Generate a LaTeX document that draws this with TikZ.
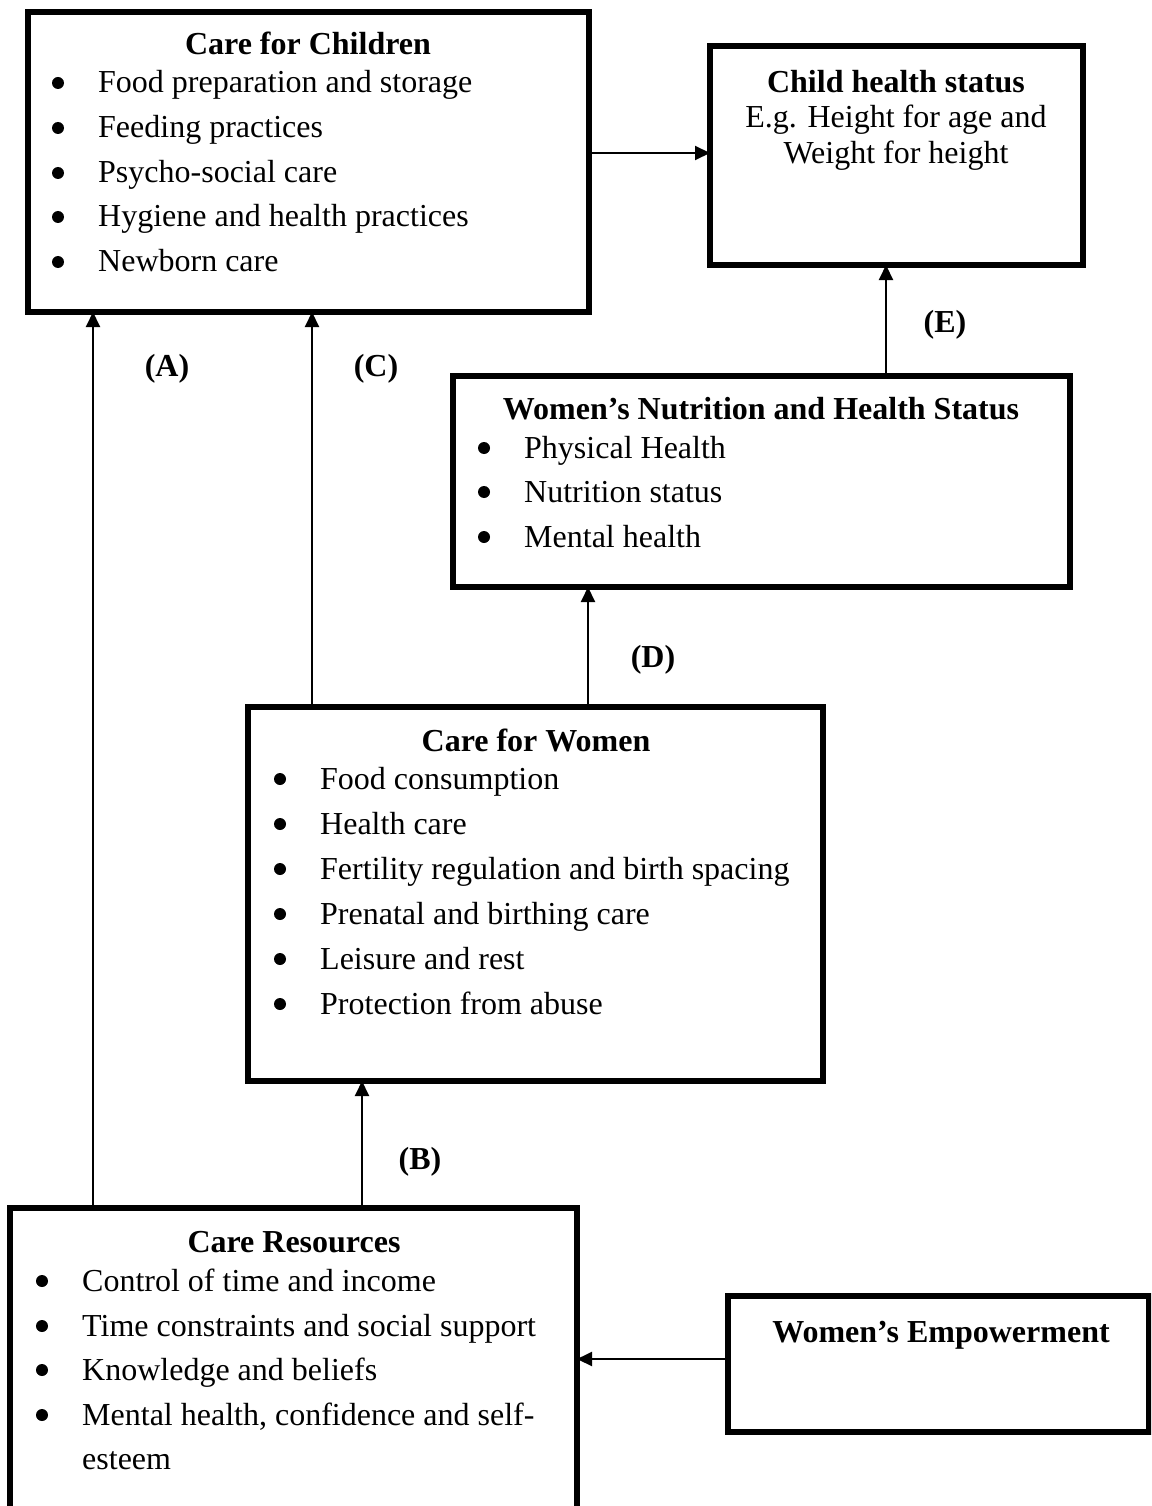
\documentclass[tikz,border=0pt]{standalone}
\usepackage{fontspec}
\setmainfont{Liberation Serif}
\usetikzlibrary{arrows.meta}
\begin{document}
\begin{tikzpicture}[x=1pt,y=-1pt,
  box/.style={draw,line width=5.5pt,minimum width=#1,anchor=north west,inner sep=0pt,outer sep=0pt},
  arr/.style={line width=2pt,-{Triangle[length=15pt,width=14pt]}},
  txt/.style={anchor=base west,inner sep=0pt,font=\fontsize{32}{45}\selectfont},
  ttl/.style={anchor=base,inner sep=0pt,font=\fontsize{32}{45}\selectfont\bfseries},
  bul/.style={anchor=base,inner sep=0pt,font=\fontsize{32}{45}\selectfont},
  dot/.style={circle,fill,inner sep=0pt,minimum size=12pt}]
\useasboundingbox (0,0) rectangle (1151,1506);
\clip (0,0) rectangle (1151,1506);
% boxes
\node[box=561pt,minimum height=300pt] (cc) at (28,12) {};
\node[box=373pt,minimum height=219pt] (chs) at (710,46) {};
\node[box=617pt,minimum height=211pt] (wn) at (453,376) {};
\node[box=575pt,minimum height=374pt] (cw) at (248,707) {};
\node[box=567pt,minimum height=330pt] (cr) at (10,1208) {};
\node[box=421pt,minimum height=136pt] (we) at (728,1296) {};
% x coordinates for vertical connectors
\coordinate (xa) at (93,0);
\coordinate (xc) at (312,0);
\coordinate (xb) at (362,0);
\coordinate (xd) at (588,0);
\coordinate (xe) at (886,0);
\coordinate (yh) at (0,153);
\coordinate (yw) at (0,1359);
% connectors
\draw[arr] (xa |- cr.north) -- (xa |- cc.south);
\draw[arr] (xc |- cw.north) -- (xc |- cc.south);
\draw[arr] (xb |- cr.north) -- (xb |- cw.south);
\draw[arr] (xd |- cw.north) -- (xd |- wn.south);
\draw[arr] (xe |- wn.north) -- (xe |- chs.south);
\draw[arr] (cc.east |- yh) -- (chs.west |- yh);
\draw[arr] (we.west |- yw) -- (cr.east |- yw);
% labels
\node[ttl] (la) at (167,376) {(A)};
\node[ttl] (lc) at (376,376) {(C)};
\node[ttl] (le) at (945,332) {(E)};
\node[ttl] (ld) at (653,667) {(D)};
\node[ttl] (lb) at (420,1169) {(B)};
% Care for Children
\node[ttl] (t1) at (308,55) {Care for Children};
\foreach \y/\t [count=\i] in {93/Food preparation and storage,138/Feeding practices,183/Psycho-social care,227/Hygiene and health practices,272/Newborn care}{
  \node[dot] (cb\i) at (58,\y-10) {};
  \node[txt] (ct\i) at (98,\y) {\t};
}
% Child health status
\node[ttl] (t2) at (896,93) {Child health status};
\node[bul] (h1) at (896,128) {E.g. Height for age and};
\node[bul] (h2) at (896,164) {Weight for height};
% Women's nutrition
\node[ttl] (t3) at (761,419) {Women’s Nutrition and Health Status};
\foreach \y/\t [count=\i] in {458/Physical Health,502/Nutrition status,547/Mental health}{
  \node[dot] (nb\i) at (484,\y-10) {};
  \node[txt] (nt\i) at (524,\y) {\t};
}
% Care for Women
\node[ttl] (t4) at (536,751) {Care for Women};
\foreach \y/\t [count=\i] in {789/Food consumption,834/Health care,879/Fertility regulation and birth spacing,924/Prenatal and birthing care,969/Leisure and rest,1014/Protection from abuse}{
  \node[dot] (wb\i) at (280,\y-10) {};
  \node[txt] (wt\i) at (320,\y) {\t};
}
% Care Resources
\node[ttl] (t5) at (294,1252) {Care Resources};
\foreach \y/\t [count=\i] in {1291/Control of time and income,1336/Time constraints and social support,1380/Knowledge and beliefs,1425/{Mental health, confidence and self-}}{
  \node[dot] (rb\i) at (42,\y-10) {};
  \node[txt] (rt\i) at (82,\y) {\t};
}
\node[txt] (rt5) at (82,1469) {esteem};
% Women's Empowerment
\node[ttl] (t6) at (941,1342) {Women’s Empowerment};
\end{tikzpicture}
\end{document}
